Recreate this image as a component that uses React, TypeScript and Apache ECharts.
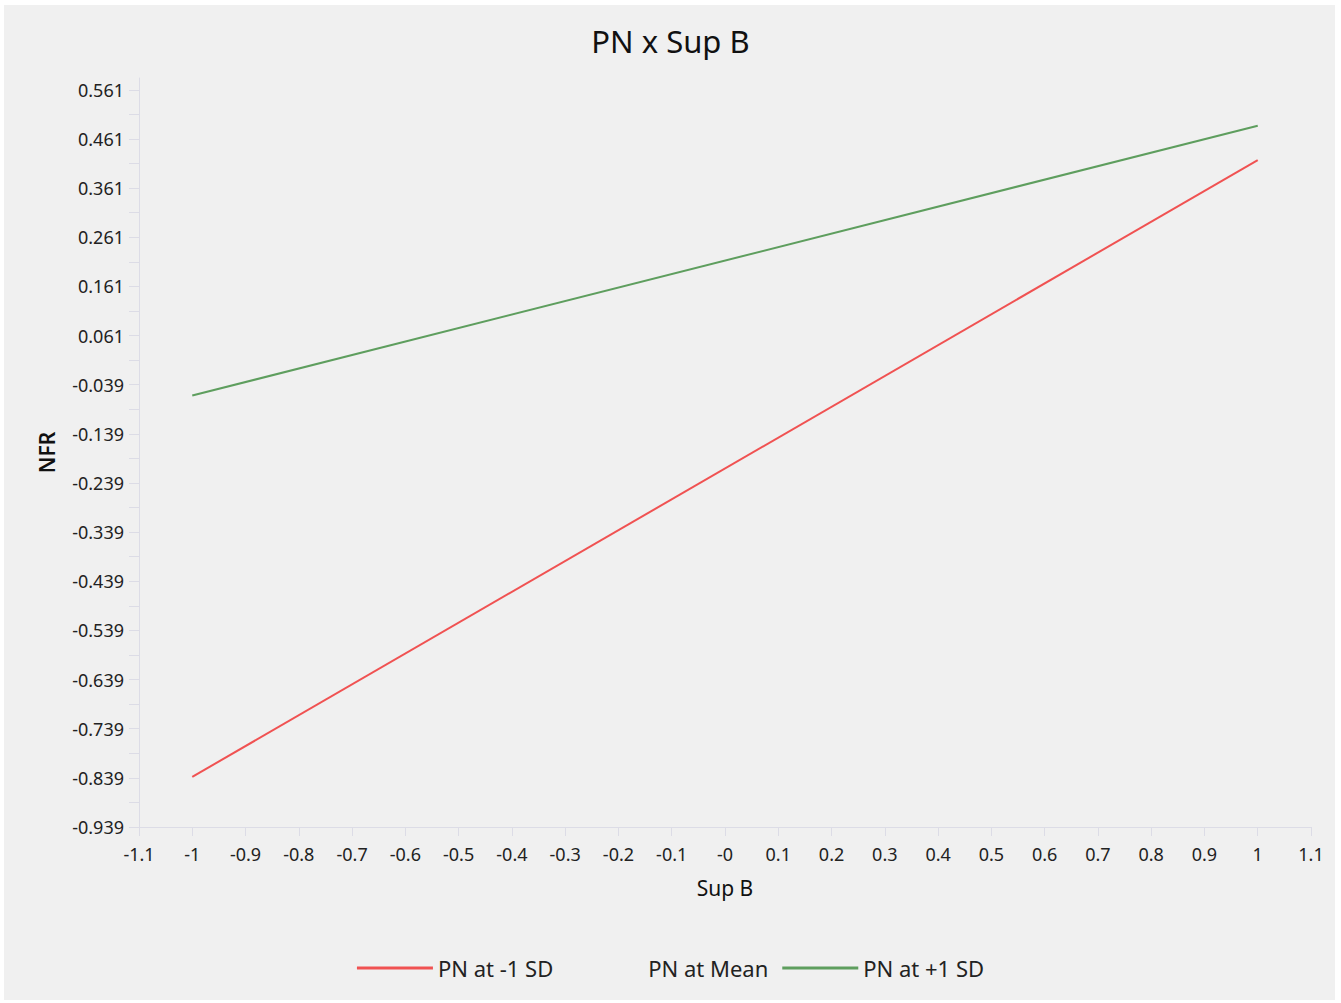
import React, { useEffect, useRef } from "react";
import * as echarts from "echarts";

const seriesNames = ["PN at -1 SD", "PN at Mean", "PN at +1 SD"];
const xValues = [-1, 1];
const lowSD = [-0.837, 0.418];
const meanSD: number[] = [];
const highSD = [-0.061, 0.488];
const yTickLabels = [
  -0.939, -0.839, -0.739, -0.639, -0.539, -0.439, -0.339, -0.239, -0.139, -0.039,
  0.061, 0.161, 0.261, 0.361, 0.461, 0.561,
];
const xTickLabels = [
  -1.1, -1, -0.9, -0.8, -0.7, -0.6, -0.5, -0.4, -0.3, -0.2, -0.1, 0, 0.1, 0.2, 0.3,
  0.4, 0.5, 0.6, 0.7, 0.8, 0.9, 1, 1.1,
];

const FONT = '"Segoe UI", "Noto Sans", sans-serif';
const AXIS_COLOR = "#dcdce6";

export default function App() {
  const ref = useRef<HTMLDivElement>(null);
  useEffect(() => {
    document.body.style.margin = "0";
    const chart = echarts.init(ref.current!, null, { renderer: "svg" });
    const yMinor: number[] = [];
    yTickLabels.forEach((v, i) => {
      yMinor.push(v);
      if (i < yTickLabels.length - 1) yMinor.push(+(v + 0.05).toFixed(3));
    });
    chart.setOption({
      animation: false,
      backgroundColor: "#ffffff",
      textStyle: { fontFamily: FONT },
      graphic: [
        {
          type: "rect",
          z: -10,
          shape: { x: 4, y: 5, width: 1331, height: 995 },
          style: { fill: "#f0f0f0" },
          silent: true,
        },
      ],
      title: {
        text: "PN x Sup B",
        left: "center",
        top: 20,
        textStyle: { fontFamily: FONT, fontSize: 31, fontWeight: "normal", color: "#111" },
      },
      legend: {
        data: seriesNames,
        left: "center",
        top: 952,
        icon: "rect",
        itemWidth: 76,
        itemHeight: 3,
        itemGap: 14,
        textStyle: { fontFamily: FONT, fontSize: 22, color: "#222" },
      },
      grid: { left: 139, right: 30, top: 78, bottom: 176 },
      xAxis: {
        type: "value",
        min: -1.1,
        max: 1.1,
        name: "Sup B",
        nameLocation: "middle",
        nameGap: 50,
        nameTextStyle: { fontFamily: FONT, fontSize: 21, color: "#111" },
        splitLine: { show: false },
        axisLine: { show: true, onZero: false, lineStyle: { color: AXIS_COLOR, width: 1 } },
        axisTick: {
          show: true,
          customValues: xTickLabels,
          length: 9,
          lineStyle: { color: AXIS_COLOR },
        },
        axisLabel: {
          customValues: xTickLabels,
          margin: 18,
          fontFamily: FONT,
          fontSize: 18,
          color: "#222",
          formatter: (v: number) => (Math.abs(v) < 1e-9 ? "-0" : String(+v.toFixed(1))),
        },
      },
      yAxis: {
        type: "value",
        min: -0.939,
        max: 0.585,
        name: "NFR",
        nameLocation: "middle",
        nameGap: 82,
        nameTextStyle: { fontFamily: FONT, fontSize: 21, color: "#111", fontWeight: 600 },
        splitLine: { show: false },
        axisLine: { show: true, onZero: false, lineStyle: { color: AXIS_COLOR, width: 1 } },
        axisTick: {
          show: true,
          customValues: yMinor,
          length: 10,
          lineStyle: { color: AXIS_COLOR },
        },
        axisLabel: {
          customValues: yTickLabels,
          margin: 15,
          fontFamily: FONT,
          fontSize: 18,
          color: "#222",
          formatter: (v: number) => v.toFixed(3),
        },
      },
      series: [
        {
          name: seriesNames[0],
          type: "line",
          symbol: "none",
          data: xValues.map((x, i) => [x, lowSD[i]]),
          lineStyle: { color: "#f05252", width: 2 },
          itemStyle: { color: "#f05252" },
        },
        {
          name: seriesNames[1],
          type: "line",
          symbol: "none",
          data: meanSD.map((y, i) => [xValues[i], y]),
          lineStyle: { color: "transparent", width: 2 },
          itemStyle: { color: "transparent" },
        },
        {
          name: seriesNames[2],
          type: "line",
          symbol: "none",
          data: xValues.map((x, i) => [x, highSD[i]]),
          lineStyle: { color: "#5e9e5e", width: 2 },
          itemStyle: { color: "#5e9e5e" },
        },
      ],
    });
    return () => chart.dispose();
  }, []);
  return <div ref={ref} style={{ width: 1341, height: 1003 }} />;
}
